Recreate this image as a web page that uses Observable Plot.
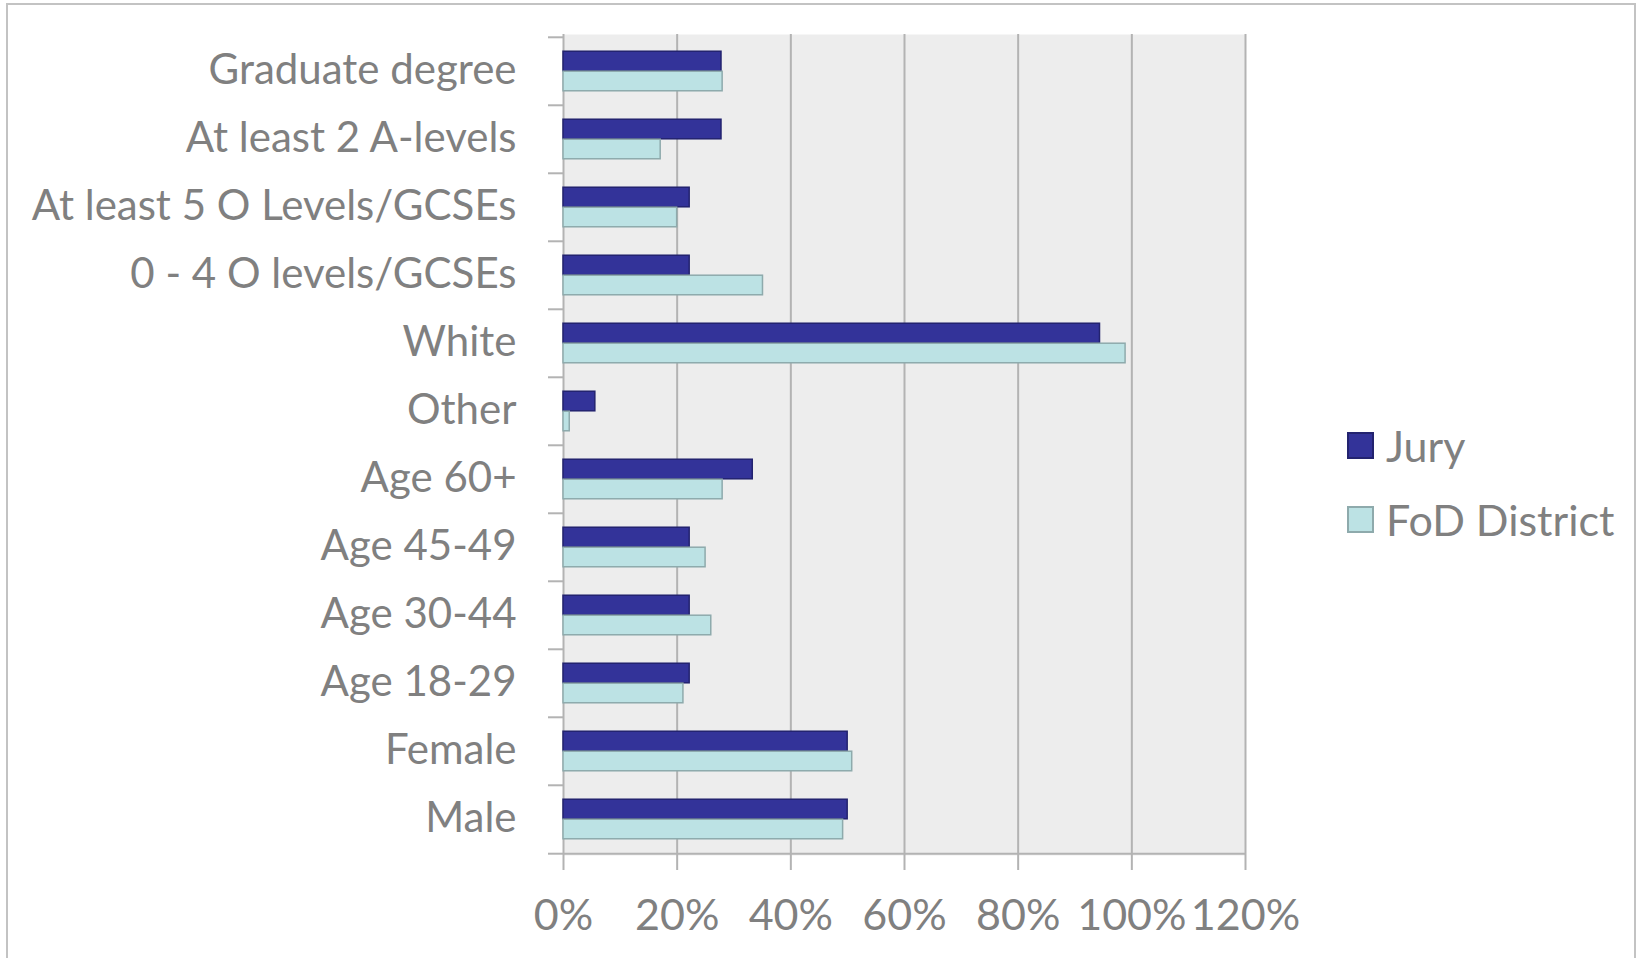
<!DOCTYPE html>
<html>
<head>
<meta charset="utf-8">
<script src="https://cdn.jsdelivr.net/npm/d3@7"></script>
<script src="https://cdn.jsdelivr.net/npm/@observablehq/plot@0.6"></script>
<style>
  html, body { margin: 0; padding: 0; background: #ffffff; }
  #wrap { position: relative; width: 1640px; height: 958px; overflow: hidden; font-family: Lato, "Open Sans", sans-serif; }
  #border { position: absolute; left: 6px; top: 3px; width: 1630px; height: 960px; border: 2px solid #c3c3c3; box-sizing: border-box; }
  #chart { position: absolute; left: 0; top: 0; }
  #legend { position: absolute; left: 1347px; top: 408px; color: #808080; font-size: 43px; }
  .row { display: flex; align-items: center; height: 74px; }
  .sw { width: 27px; height: 27px; margin-right: 12px; box-sizing: border-box; border: 2px solid; }
</style>
</head>
<body>
<div id="wrap">
  <div id="border"></div>
  <div id="chart"></div>
  <div id="legend"></div>
</div>
<script>
const categories = ["Graduate degree", "At least 2 A-levels", "At least 5 O Levels/GCSEs", "0 - 4 O levels/GCSEs", "White", "Other", "Age 60+", "Age 45-49", "Age 30-44", "Age 18-29", "Female", "Male"];
const jury = [27.8, 27.8, 22.2, 22.2, 94.4, 5.6, 33.3, 22.2, 22.2, 22.2, 50.0, 50.0];
const fod = [28.0, 17.1, 20.0, 35.1, 98.9, 1.1, 28.0, 25.0, 26.0, 21.1, 50.8, 49.2];
const series = ["Jury", "FoD District"];
const xTicks = [0, 20, 40, 60, 80, 100, 120];

const fills = {"Jury": "#333399", "FoD District": "#bce2e4"};
const strokes = {"Jury": "#23236f", "FoD District": "#8eaaac"};

const juryData = categories.map((c, i) => ({category: c, value: jury[i], series: series[0]}));
const fodData = categories.map((c, i) => ({category: c, value: fod[i], series: series[1]}));

const H = 958, mt = 34, mb = 103;
const band = (H - mt - mb) / categories.length;
const barH = band * 0.292;
const outer = (band - 2 * barH) / 2;

const txt = "#808080";
const grid = "#b3b3b3";
const fs = 43;

const plot = Plot.plot({
  width: 1640,
  height: H,
  marginLeft: 563,
  marginRight: 395,
  marginTop: mt,
  marginBottom: mb,
  style: {fontFamily: "Lato, 'Open Sans', sans-serif", fontSize: fs + "px", color: txt, background: "transparent"},
  x: {domain: [0, 120], axis: null},
  y: {domain: categories, padding: 0, axis: null},
  marks: [
    Plot.frame({fill: "#ededed", stroke: null}),
    Plot.gridX(xTicks, {stroke: grid, strokeOpacity: 1, strokeWidth: 2}),
    Plot.axisX(xTicks, {tickSize: 15, tickPadding: 29, stroke: grid, strokeWidth: 2, strokeOpacity: 1, fill: txt, tickFormat: d => d + "%", label: null, fontSize: fs}),
    Plot.axisY({tickSize: 0, tickPadding: 47, fill: txt, label: null, fontSize: 42, dy: -1}),
    Plot.axisY({text: null, label: null, tickSize: 15, dy: -band / 2, stroke: grid, strokeWidth: 2, strokeOpacity: 1}),
    Plot.axisY(["Male"], {text: null, label: null, tickSize: 15, dy: band / 2, stroke: grid, strokeWidth: 2, strokeOpacity: 1}),
    Plot.ruleY(["Male"], {dy: band / 2, stroke: grid, strokeWidth: 2}),
    Plot.barX(juryData, {y: "category", x: "value", fill: fills["Jury"], stroke: strokes["Jury"], strokeWidth: 1.5, insetTop: outer, insetBottom: outer + barH}),
    Plot.barX(fodData, {y: "category", x: "value", fill: fills["FoD District"], stroke: strokes["FoD District"], strokeWidth: 1.5, insetTop: outer + barH, insetBottom: outer})
  ]
});
document.getElementById("chart").appendChild(plot);

const legend = document.getElementById("legend");
for (const s of series) {
  const row = document.createElement("div");
  row.className = "row";
  const sw = document.createElement("div");
  sw.className = "sw";
  sw.style.background = fills[s];
  sw.style.borderColor = strokes[s];
  const t = document.createElement("span");
  t.textContent = s;
  row.appendChild(sw);
  row.appendChild(t);
  legend.appendChild(row);
}
</script>
</body>
</html>
